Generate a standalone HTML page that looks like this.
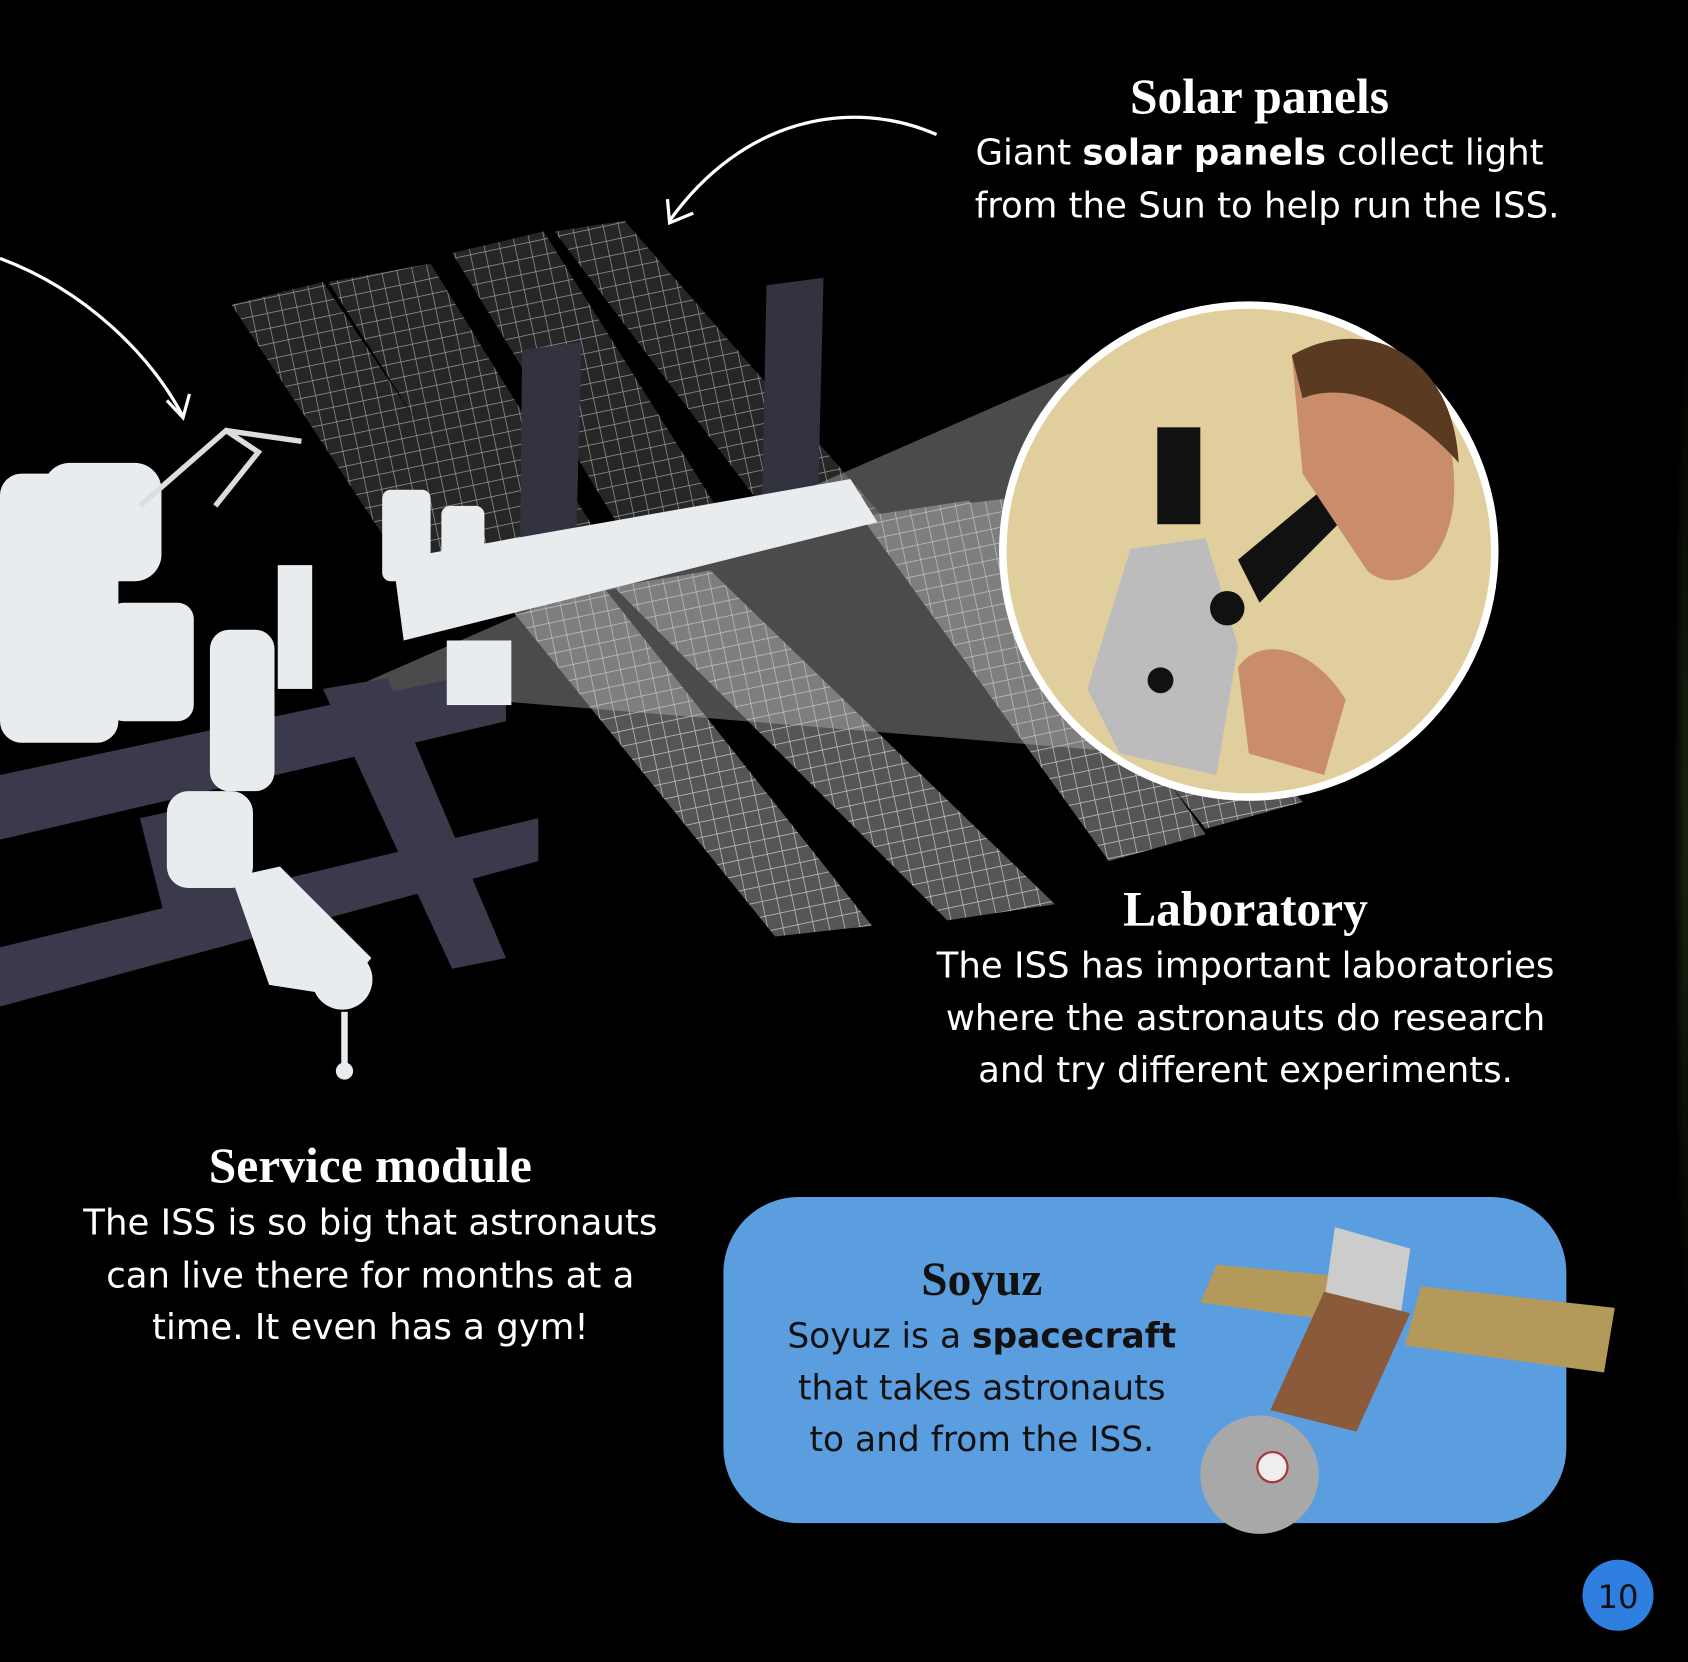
<!DOCTYPE html>
<html><head><meta charset="utf-8"><style>
html,body{margin:0;padding:0;background:#000;}
svg{display:block}
.h{font-family:"Liberation Serif",serif;font-weight:bold;fill:#fff;}
.t{font-family:"DejaVu Sans","Liberation Sans",sans-serif;fill:#fff;}
</style></head><body>
<svg width="1688" height="1662" viewBox="0 0 1568 1544" preserveAspectRatio="none" xmlns="http://www.w3.org/2000/svg">
<defs>
<pattern id="g" width="14" height="14" patternUnits="userSpaceOnUse" patternTransform="rotate(-12)">
<rect width="14" height="14" fill="#262626"/>
<path d="M0 0H14M0 0V14" stroke="#9a9a9a" stroke-width="1.3"/>
</pattern>
<pattern id="g2" width="14" height="14" patternUnits="userSpaceOnUse" patternTransform="rotate(-12)">
<rect width="14" height="14" fill="#555"/>
<path d="M0 0H14M0 0V14" stroke="#c8c8c8" stroke-width="1.3"/>
</pattern>
<radialGradient id="bg" cx="0.95" cy="0.5" r="0.3"><stop offset="0" stop-color="#1a2410"/><stop offset="1" stop-color="#000"/></radialGradient>
</defs>
<rect width="1568" height="1544" fill="#000"/>
<rect x="1530" y="0" width="38" height="1544" fill="url(#bg)"/>
<!-- upper solar panels -->
<polygon points="215,283 300,262 500,560 410,580" fill="url(#g)"/>
<polygon points="305,262 400,245 585,545 495,562" fill="url(#g)"/>
<polygon points="420,235 505,215 690,510 600,530" fill="url(#g)"/>
<polygon points="515,215 580,205 820,480 730,500" fill="url(#g)"/>
<!-- lower panels -->
<polygon points="470,560 560,545 810,860 720,870" fill="url(#g2)"/>
<polygon points="570,545 660,530 980,840 880,855" fill="url(#g2)"/>
<polygon points="800,480 900,465 1120,775 1030,800" fill="url(#g2)"/>
<polygon points="880,470 960,460 1210,745 1120,770" fill="url(#g2)"/>
<!-- dark radiators -->
<polygon points="485,325 540,318 535,515 483,520" fill="#333340"/>
<polygon points="712,265 765,258 760,460 708,465" fill="#333340"/>
<!-- beam -->
<polygon points="325,640 1010,340 1060,700" fill="#bbb" opacity="0.4"/>
<!-- lower truss -->
<g fill="#3a3a4c">
<polygon points="0,720 470,620 470,670 0,780"/>
<polygon points="0,880 500,760 500,800 0,935"/>
<polygon points="300,640 360,630 470,890 420,900"/>
<polygon points="130,760 200,745 240,870 160,880"/>
</g>
<!-- station white parts -->
<g fill="#e8ecef">
<polygon points="365,520 790,445 815,485 375,595"/>
<rect x="0" y="440" width="110" height="250" rx="20"/>
<rect x="40" y="430" width="110" height="110" rx="25"/>
<rect x="100" y="560" width="80" height="110" rx="15"/>
<rect x="195" y="585" width="60" height="150" rx="18"/>
<rect x="155" y="735" width="80" height="90" rx="20"/>
<polygon points="215,815 260,805 345,890 315,925 250,915"/>
<circle cx="318" cy="910" r="28"/>
<rect x="258" y="525" width="32" height="115"/>
<rect x="415" y="595" width="60" height="60"/>
<rect x="355" y="455" width="45" height="85" rx="8"/>
<rect x="410" y="470" width="40" height="75" rx="8"/>
<circle cx="320" cy="995" r="8"/>
<rect x="317" y="940" width="6" height="55"/>
</g>
<g stroke="#ddd" stroke-width="5" fill="none"><path d="M130,470 L210,400 L240,420 L200,470"/><path d="M210,400 L280,410"/></g>
<!-- arrows -->
<path d="M870,125 C790,90 690,110 622,205" stroke="#fff" stroke-width="3" fill="none"/>
<path d="M620,185 L622,207 L644,198" stroke="#fff" stroke-width="3" fill="none"/>
<path d="M0,240 C80,270 140,330 170,387" stroke="#fff" stroke-width="3" fill="none"/>
<path d="M155,372 L170,388 L176,366" stroke="#fff" stroke-width="3" fill="none"/>
<!-- circle -->
<circle cx="1160" cy="512" r="232" fill="#fff"/>
<circle cx="1160" cy="512" r="225" fill="#e0cf9c"/>
<polygon points="1050,510 1120,500 1150,600 1130,720 1040,700 1010,640" fill="#bcbcbc"/>
<rect x="1075" y="397" width="40" height="90" fill="#111"/>
<polygon points="1150,520 1240,445 1260,470 1170,560" fill="#111"/>
<circle cx="1140" cy="565" r="16" fill="#111"/>
<circle cx="1078" cy="632" r="12" fill="#111"/>
<path d="M1200,330 C1280,290 1360,360 1350,470 C1340,540 1290,550 1270,530 L1210,440 Z" fill="#c98d6c"/>
<path d="M1200,330 C1270,290 1350,330 1355,430 C1320,390 1260,350 1210,370 Z" fill="#5b3a22"/>
<path d="M1150,620 C1170,590 1220,600 1250,650 L1230,720 L1160,700 Z" fill="#c98d6c"/>
<!-- texts -->
<text class="h" x="1170" y="105" font-size="46" text-anchor="middle">Solar panels</text>
<text class="t" x="1170" y="153" font-size="33" text-anchor="middle">Giant <tspan font-weight="bold">solar panels</tspan> collect light</text>
<text class="t" x="1177" y="202" font-size="33" text-anchor="middle">from the Sun to help run the ISS.</text>
<text class="h" x="1157" y="860" font-size="46" text-anchor="middle">Laboratory</text>
<text class="t" x="1157" y="908" font-size="33" text-anchor="middle">The ISS has important laboratories</text>
<text class="t" x="1157" y="957" font-size="33" text-anchor="middle">where the astronauts do research</text>
<text class="t" x="1157" y="1005" font-size="33" text-anchor="middle">and try different experiments.</text>
<text class="h" x="344" y="1098" font-size="46" text-anchor="middle">Service module</text>
<text class="t" x="344" y="1147" font-size="33" text-anchor="middle">The ISS is so big that astronauts</text>
<text class="t" x="344" y="1196" font-size="33" text-anchor="middle">can live there for months at a</text>
<text class="t" x="344" y="1244" font-size="33" text-anchor="middle">time. It even has a gym!</text>
<!-- soyuz box -->
<rect x="672" y="1112" width="783" height="303" rx="70" fill="#5b9ee0"/>
<text class="h" x="912" y="1203" font-size="44" text-anchor="middle" style="fill:#111">Soyuz</text>
<text class="t" x="912" y="1252" font-size="32" text-anchor="middle" style="fill:#111">Soyuz is a <tspan font-weight="bold">spacecraft</tspan></text>
<text class="t" x="912" y="1300" font-size="32" text-anchor="middle" style="fill:#111">that takes astronauts</text>
<text class="t" x="912" y="1348" font-size="32" text-anchor="middle" style="fill:#111">to and from the ISS.</text>
<polygon points="1130,1175 1240,1185 1225,1225 1115,1210" fill="#b39a5a"/>
<polygon points="1320,1195 1500,1215 1490,1275 1305,1250" fill="#b39a5a"/>
<polygon points="1240,1140 1310,1160 1300,1230 1230,1210" fill="#ccc"/>
<polygon points="1230,1200 1310,1220 1260,1330 1180,1310" fill="#8b5a3a"/>
<circle cx="1170" cy="1370" r="55" fill="#a8a8a8"/>
<circle cx="1182" cy="1363" r="14" fill="#eee" stroke="#a33" stroke-width="2"/>
<!-- page number -->
<circle cx="1503" cy="1482" r="33" fill="#2f7fe0"/>
<text class="t" x="1503" y="1494" font-size="30" text-anchor="middle" style="fill:#111">10</text>
</svg>
</body></html>
